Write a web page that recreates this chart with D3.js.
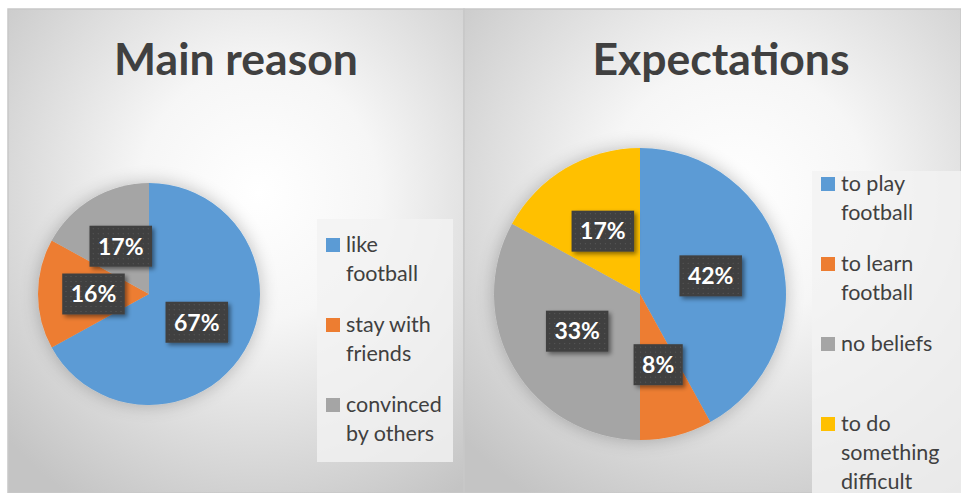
<!DOCTYPE html>
<html>
<head>
<meta charset="utf-8">
<script src="https://cdn.jsdelivr.net/npm/d3@7"></script>
<style>
  body { margin: 0; background: #fff; }
  svg { display: block; }
</style>
</head>
<body>
<div id="chart-container"></div>
<script>
   const mainTitle = "Main reason";
   const mainLabels = ["like football", "stay with friends", "convinced by others"];
   const mainValues = [67, 16, 17];

   const expTitle = "Expectations";
   const expLabels = ["to play football", "to learn football", "no beliefs", "to do something difficult"];
   const expValues = [42, 8, 33, 17];

   const colors = ["#5b9bd5", "#ed7d31", "#a5a5a5", "#ffc000"];

   const width = 961;
   const height = 493;
   const font = "Lato, 'Open Sans', sans-serif";

   const svg = d3.select("#chart-container")
       .append("svg")
       .attr("width", width)
       .attr("height", height);

   const defs = svg.append("defs");

   // panel backgrounds: white in the middle, gray at the edges
   ["bgL", "bgR"].forEach(id => {
       const g = defs.append("radialGradient")
           .attr("id", id)
           .attr("cx", "55%").attr("cy", "38%").attr("r", "75%");
       g.append("stop").attr("offset", "0%").attr("stop-color", "#ffffff");
       g.append("stop").attr("offset", "35%").attr("stop-color", "#f6f6f6");
       g.append("stop").attr("offset", "100%").attr("stop-color", "#c4c4c4");
   });

   const glow = defs.append("filter").attr("id", "glow")
       .attr("x", "-30%").attr("y", "-30%").attr("width", "160%").attr("height", "160%");
   glow.append("feGaussianBlur").attr("in", "SourceAlpha").attr("stdDeviation", 9);
   glow.append("feComponentTransfer").append("feFuncA").attr("type", "linear").attr("slope", 0.25);
   const gm = glow.append("feMerge");
   gm.append("feMergeNode");
   gm.append("feMergeNode").attr("in", "SourceGraphic");

   const boxShadow = defs.append("filter").attr("id", "boxShadow")
       .attr("x", "-20%").attr("y", "-20%").attr("width", "150%").attr("height", "160%");
   boxShadow.append("feDropShadow")
       .attr("dx", 2.5).attr("dy", 2.5).attr("stdDeviation", 2)
       .attr("flood-color", "#000").attr("flood-opacity", 0.45);

   const dots = defs.append("pattern").attr("id", "dots")
       .attr("width", 5).attr("height", 5).attr("patternUnits", "userSpaceOnUse");
   dots.append("rect").attr("width", 5).attr("height", 5).attr("fill", "#404040");
   dots.append("rect").attr("x", 2).attr("y", 2).attr("width", 1).attr("height", 1).attr("fill", "#5a5a5a");

   const panels = [
       { title: mainTitle, labels: mainLabels, values: mainValues, bg: "bgL",
         x0: 8, x1: 464, cx: 149, cy: 294, r: 111, titleX: 236,
         legend: { x: 317, y: 219, w: 136, h: 243, first: 238 } },
       { title: expTitle, labels: expLabels, values: expValues, bg: "bgR",
         x0: 464, x1: 961, cx: 640, cy: 294, r: 146, titleX: 721,
         legend: { x: 812, y: 171, w: 160, h: 330, first: 177 } }
   ];

   const pie = d3.pie().sort(null).value(d => d);

   panels.forEach(p => {
       const g = svg.append("g");

       g.append("rect")
           .attr("x", p.x0).attr("y", 9)
           .attr("width", p.x1 - p.x0).attr("height", height - 9)
           .attr("fill", `url(#${p.bg})`)
           .attr("stroke", "#c8c8c8")
           .attr("stroke-width", 1.5);

       g.append("text")
           .attr("x", p.titleX).attr("y", 75)
           .attr("text-anchor", "middle")
           .attr("font-family", font)
           .attr("font-weight", "bold")
           .attr("font-size", 44.5)
           .attr("fill", "#404040")
           .text(p.title);

       const arc = d3.arc().innerRadius(0).outerRadius(p.r);
       const arcs = pie(p.values);

       const pg = g.append("g")
           .attr("transform", `translate(${p.cx},${p.cy})`);

       pg.append("g").attr("filter", "url(#glow)")
           .selectAll("path")
           .data(arcs)
           .join("path")
           .attr("d", arc)
           .attr("fill", (d, i) => colors[i]);

       const total = d3.sum(p.values);
       const lab = pg.selectAll("g.lab")
           .data(arcs)
           .join("g")
           .attr("class", "lab")
           .attr("transform", d => `translate(${arc.centroid(d)})`);

       lab.each(function(d) {
           const s = d3.select(this);
           const txt = Math.round(d.value / total * 100) + "%";
           const box = s.append("rect").attr("fill", "url(#dots)").attr("filter", "url(#boxShadow)");
           const t = s.append("text")
               .attr("text-anchor", "middle")
               .attr("dy", "0.36em")
               .attr("font-family", font)
               .attr("font-weight", "bold")
               .attr("font-size", 23)
               .attr("fill", "#fff")
               .text(txt);
           const w = t.node().getComputedTextLength() + 17;
           box.attr("x", -w / 2).attr("y", -20.5).attr("width", w).attr("height", 41);
       });

       // legend
       const L = p.legend;
       g.append("rect")
           .attr("x", L.x).attr("y", L.y)
           .attr("width", L.w).attr("height", L.h)
           .attr("fill", "#f2f2f2").attr("opacity", 0.8);

       const item = g.selectAll("g.item")
           .data(p.labels)
           .join("g")
           .attr("class", "item")
           .attr("transform", (d, i) => `translate(${L.x + 9},${L.first + i * 80})`);

       item.append("rect")
           .attr("width", 14).attr("height", 14)
           .attr("fill", (d, i) => colors[i]);

       item.each(function(d) {
           const t = d3.select(this).append("text")
               .attr("font-family", font)
               .attr("font-size", 21.5)
               .attr("fill", "#404040");
           // wrap words to the legend width
           const words = d.split(" ");
           let line = [];
           let n = 0;
           let ts = t.append("tspan").attr("x", 20).attr("y", 14);
           words.forEach(w => {
               line.push(w);
               ts.text(line.join(" "));
               if (ts.node().getComputedTextLength() > 104 && line.length > 1) {
                   line.pop();
                   ts.text(line.join(" "));
                   line = [w];
                   n++;
                   ts = t.append("tspan").attr("x", 20).attr("y", 14 + n * 29).text(w);
               }
           });
       });
   });
</script>
</body>
</html>
